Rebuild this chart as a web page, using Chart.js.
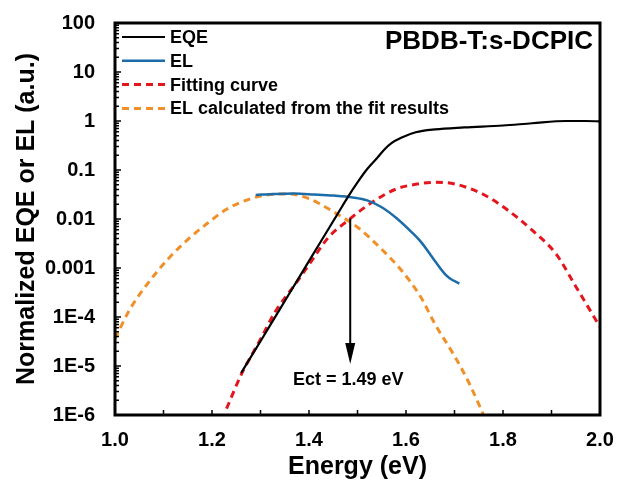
<!DOCTYPE html>
<html>
<head>
<meta charset="utf-8">
<script src="https://cdn.jsdelivr.net/npm/chart.js@4.4.0/dist/chart.umd.min.js"></script>
<style>
  html, body { margin: 0; padding: 0; background: #fff; }
</style>
</head>
<body>
<canvas id="chart" width="617" height="482"></canvas>
<script>
// values
const seriesLabels = ['EQE', 'EL', 'Fitting curve', 'EL calculated from the fit results'];

const eqeEnergy = [1.26, 1.30, 1.34, 1.38, 1.42, 1.46, 1.48, 1.50, 1.52, 1.54, 1.555, 1.57, 1.59, 1.62, 1.66, 1.72, 1.80, 1.86, 1.93, 1.97, 2.00];
const eqeValues = [7.2e-6, 3.2e-5, 1.45e-4, 6.5e-4, 2.95e-3, 0.0132, 0.028, 0.056, 0.105, 0.174, 0.26, 0.355, 0.457, 0.59, 0.676, 0.74, 0.81, 0.90, 1.0, 1.0, 0.98];

const elEnergy = [1.29, 1.33, 1.37, 1.41, 1.45, 1.49, 1.52, 1.55, 1.58, 1.61, 1.63, 1.66, 1.68, 1.69, 1.71];
const elValues = [0.031, 0.0324, 0.033, 0.0316, 0.030, 0.0275, 0.024, 0.0174, 0.0105, 0.0056, 0.0035, 0.00138, 7.6e-4, 6.2e-4, 4.8e-4];

const fitEnergy = [1.23, 1.26, 1.30, 1.33, 1.375, 1.40, 1.44, 1.48, 1.53, 1.58, 1.62, 1.66, 1.70, 1.76, 1.81, 1.86, 1.91, 1.95, 2.00];
const fitValues = [1.35e-6, 6.6e-6, 3.5e-5, 1.26e-4, 5.2e-4, 1.17e-3, 4.2e-3, 9.3e-3, 0.0219, 0.041, 0.051, 0.056, 0.052, 0.0316, 0.0151, 5.9e-3, 1.9e-3, 4.2e-4, 6.3e-5];

const elCalcEnergy = [1.00, 1.03, 1.07, 1.11, 1.15, 1.19, 1.23, 1.28, 1.32, 1.36, 1.40, 1.42, 1.46, 1.50, 1.55, 1.59, 1.63, 1.66, 1.70, 1.73, 1.76];
const elCalcValues = [3.6e-5, 1.4e-4, 5.2e-4, 1.55e-3, 3.8e-3, 8.1e-3, 0.0158, 0.026, 0.0316, 0.0324, 0.026, 0.021, 0.0123, 6.8e-3, 2.4e-3, 9.1e-4, 2.6e-4, 7.1e-5, 1.6e-5, 4.5e-6, 1.0e-6];

const xTicks = [1.0, 1.2, 1.4, 1.6, 1.8, 2.0];
const yTicks = [1e-6, 1e-5, 1e-4, 1e-3, 0.01, 0.1, 1, 10, 100];
const yTickLabels = ['1E-6', '1E-5', '1E-4', '0.001', '0.01', '0.1', '1', '10', '100'];

const ectValue = 1.485;        // arrow position
const ectArrowFrom = 0.0102;
const ectArrowTo = 1.1e-5;
const ectLabel = 'Ect = 1.49 eV';
const sampleName = 'PBDB-T:s-DCPIC';

const FONT = "'Liberation Sans', Arial, sans-serif";

function pts(xs, ys) {
    return xs.map((x, i) => ({ x: x, y: ys[i] }));
}

const framePlugin = {
    id: 'frame',
    afterDatasetsDraw(chart) {
        const { ctx, chartArea: a, scales: { x, y } } = chart;
        ctx.save();

        // inward ticks
        ctx.strokeStyle = '#000';
        ctx.lineWidth = 1.5;
        ctx.beginPath();
        for (let i = 0; i <= 10; i++) {
            const px = x.getPixelForValue(1 + i * 0.1);
            ctx.moveTo(px, a.bottom);
            ctx.lineTo(px, a.bottom - 5);
        }
        for (let d = -6; d <= 2; d++) {
            const py = y.getPixelForValue(Math.pow(10, d));
            ctx.moveTo(a.left, py);
            ctx.lineTo(a.left + 6, py);
            if (d === 2) continue;
            for (let m = 2; m <= 9; m++) {
                const pm = y.getPixelForValue(m * Math.pow(10, d));
                ctx.moveTo(a.left, pm);
                ctx.lineTo(a.left + 4, pm);
            }
        }
        ctx.stroke();

        // frame
        ctx.lineWidth = 3;
        ctx.strokeRect(a.left, a.top, a.right - a.left, a.bottom - a.top);

        // arrow for Ect
        const ax = x.getPixelForValue(ectValue);
        const ay1 = y.getPixelForValue(ectArrowFrom);
        const ay2 = y.getPixelForValue(ectArrowTo);
        ctx.lineWidth = 2;
        ctx.beginPath();
        ctx.moveTo(ax, ay1);
        ctx.lineTo(ax, ay2 - 18);
        ctx.stroke();
        ctx.beginPath();
        ctx.moveTo(ax - 5, ay2 - 21);
        ctx.lineTo(ax + 5, ay2 - 21);
        ctx.lineTo(ax, ay2);
        ctx.closePath();
        ctx.fillStyle = '#000';
        ctx.fill();

        ctx.font = 'bold 18px ' + FONT;
        ctx.textAlign = 'center';
        ctx.textBaseline = 'middle';
        ctx.fillText(ectLabel, ax - 2, ay2 + 16);

        // sample name
        ctx.font = 'bold 26px ' + FONT;
        ctx.textAlign = 'right';
        ctx.fillText(sampleName, a.right - 7, a.top + 19);

        // legend
        ctx.font = 'bold 18px ' + FONT;
        ctx.textAlign = 'left';
        chart.data.datasets.forEach((ds, i) => {
            const ly = a.top + 14 + i * 23.8;
            ctx.strokeStyle = ds.borderColor;
            ctx.lineWidth = ds.borderWidth;
            ctx.setLineDash(ds.borderDash || []);
            ctx.beginPath();
            ctx.moveTo(a.left + 7, ly);
            ctx.lineTo(a.left + 50, ly);
            ctx.stroke();
            ctx.setLineDash([]);
            ctx.fillStyle = '#000';
            ctx.fillText(ds.label, a.left + 55, ly + 1);
        });
        ctx.restore();
    }
};

new Chart(document.getElementById('chart'), {
    type: 'line',
    data: {
        datasets: [
            {
                label: seriesLabels[0],
                data: pts(eqeEnergy, eqeValues),
                borderColor: '#000000',
                borderWidth: 2.2,
                cubicInterpolationMode: 'monotone'
            },
            {
                label: seriesLabels[1],
                data: pts(elEnergy, elValues),
                borderColor: '#1b6ca8',
                borderWidth: 2.5,
                cubicInterpolationMode: 'monotone'
            },
            {
                label: seriesLabels[2],
                data: pts(fitEnergy, fitValues),
                borderColor: '#e3161e',
                borderWidth: 3,
                borderDash: [7, 5],
                cubicInterpolationMode: 'monotone'
            },
            {
                label: seriesLabels[3],
                data: pts(elCalcEnergy, elCalcValues),
                borderColor: '#f0902a',
                borderWidth: 3,
                borderDash: [7, 5],
                cubicInterpolationMode: 'monotone'
            }
        ]
    },
    options: {
        responsive: false,
        animation: false,
        devicePixelRatio: 1,
        layout: { padding: { top: 23, right: 17, left: 0, bottom: 0 } },
        elements: { point: { radius: 0 } },
        plugins: {
            legend: { display: false },
            tooltip: { enabled: false }
        },
        scales: {
            x: {
                type: 'linear',
                min: 1.0,
                max: 2.0,
                afterBuildTicks: (scale) => { scale.ticks = xTicks.map(v => ({ value: v })); },
                afterFit: (scale) => { scale.height = 67; scale.paddingLeft = 0; scale.paddingRight = 0; },
                grid: { display: false },
                border: { display: false },
                ticks: {
                    color: '#000',
                    padding: 5,
                    maxRotation: 0,
                    font: { family: FONT, size: 20, weight: 'bold' },
                    callback: (v) => Number(v).toFixed(1)
                },
                title: {
                    display: true,
                    text: 'Energy (eV)',
                    color: '#000',
                    padding: { top: 0, bottom: 0 },
                    font: { family: FONT, size: 25, weight: 'bold' }
                }
            },
            y: {
                type: 'logarithmic',
                min: 1e-6,
                max: 100,
                afterBuildTicks: (scale) => { scale.ticks = yTicks.map(v => ({ value: v })); },
                afterFit: (scale) => { scale.width = 115; scale.paddingTop = 0; scale.paddingBottom = 0; },
                grid: { display: false },
                border: { display: false },
                ticks: {
                    color: '#000',
                    padding: 12,
                    font: { family: FONT, size: 20, weight: 'bold' },
                    callback: (v) => {
                        const i = yTicks.findIndex(t => Math.abs(Math.log10(t) - Math.log10(v)) < 1e-6);
                        return i >= 0 ? yTickLabels[i] : '';
                    }
                },
                title: {
                    display: true,
                    text: 'Normalized EQE or EL (a.u.)',
                    color: '#000',
                    padding: { top: 12, bottom: 0 },
                    font: { family: FONT, size: 25, weight: 'bold' }
                }
            }
        }
    },
    plugins: [framePlugin]
});
</script>
</body>
</html>
